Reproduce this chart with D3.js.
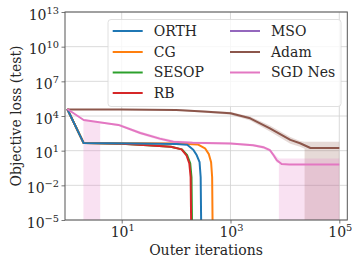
<!DOCTYPE html>
<html>
<head>
<meta charset="utf-8">
<script src="https://d3js.org/d3.v7.min.js"></script>
<style>
  body { margin: 0; background: #fff; }
  text { font-family: "DejaVu Serif", serif; fill: #262626; }
</style>
</head>
<body>
<svg id="chart" width="359" height="266"></svg>
<script>
// ---- data ----
const methods = ["ORTH", "CG", "SESOP", "RB", "MSO", "Adam", "SGD Nes"];
const colors = ["#1f77b4", "#ff7f0e", "#2ca02c", "#d62728", "#9467bd", "#8c564b", "#e377c2"];

const orthIt   = [1, 2, 20, 100, 160, 207, 240, 270, 283, 290, 295];
const orthLoss = [4e4, 45, 42, 38, 32, 12, 4, 1, 0.05, 1e-6, 1e-9];

const cgIt   = [1, 2, 20, 100, 250, 340, 400, 440, 460, 470, 480];
const cgLoss = [4e4, 46, 44, 41, 35, 16, 5, 1, 0.05, 1e-6, 1e-9];

const sesopIt   = [1, 2, 10, 30, 80, 128, 160, 182, 192, 197, 200];
const sesopLoss = [4e4, 45, 40, 30, 22, 13, 4, 0.8, 0.05, 1e-6, 1e-9];

const rbIt   = [1, 2, 10, 30, 80, 126, 155, 175, 185, 190, 195];
const rbLoss = [4e4, 45, 40, 30, 22, 13, 4, 0.8, 0.05, 1e-6, 1e-9];

const msoIt   = [];
const msoLoss = [];

const adamIt   = [1, 10, 100, 316, 1000, 2300, 5300, 12600, 19000, 29500, 1e5];
const adamLoss = [3.7e4, 3.6e4, 3.3e4, 2.5e4, 1.7e4, 6300, 850, 85, 44, 17, 17];

const sgdIt   = [1, 2, 8.7, 22, 50, 89, 200, 1000, 2600, 4000, 5300, 6200, 7100, 8700, 12000, 1e5];
const sgdLoss = [4e4, 4500, 1700, 340, 110, 60, 48, 42, 30, 20, 11, 4, 1.5, 0.7, 0.65, 0.65];

// spread bands (lower values at or below zero drawn as 1e-200)
const sgdBandIt = [1, 1.98, 2, 3, 4, 4.03, 5, 9, 22, 50, 89, 200, 1000, 2600, 4000, 5300, 7100, 7750, 7800, 12000, 1e5];
const sgdLo = [4e4, 3800, 1e-200, 1e-200, 1e-200, 2200, 2000, 1300, 250, 80, 45, 38, 34, 24, 15, 8, 0.9, 0.8, 1e-200, 1e-200, 1e-200];
const sgdHi = [4e4, 5500, 5500, 3500, 2700, 2700, 2400, 2100, 450, 150, 80, 62, 52, 38, 27, 15, 3, 2.1, 2.1, 2.1, 2.1];

const adamBandIt = [1, 100, 1000, 2300, 5300, 12600, 19000, 23000, 23300, 1e5];
const adamLo = [3.7e4, 3e4, 1.3e4, 4000, 450, 40, 22, 15, 1e-200, 1e-200];
const adamHi = [3.7e4, 4e4, 2.2e4, 9000, 1500, 150, 70, 60, 60, 60];

const xTickExps = [1, 3, 5];
const yTickExps = [-5, -2, 1, 4, 7, 10, 13];

// ---- layout ----
const svg = d3.select("#chart");
const L = 65, R = 347.3, T = 12, B = 220;

const x = d3.scaleLog().domain([Math.pow(10, -0.042), Math.pow(10, 5.147)]).range([L, R]);
const y = d3.scaleLog().domain([1e-5, 1e13]).range([B, T]);

svg.append("defs").append("clipPath").attr("id", "plotclip")
  .append("rect").attr("x", L).attr("y", T).attr("width", R - L).attr("height", B - T);

// grid
const grid = svg.append("g");
grid.selectAll(".gx").data(xTickExps).enter().append("line")
  .attr("x1", d => x(Math.pow(10, d))).attr("x2", d => x(Math.pow(10, d)))
  .attr("y1", T).attr("y2", B)
  .style("stroke", "#d0d0d0").style("stroke-width", 0.8);
grid.selectAll(".gy").data(yTickExps).enter().append("line")
  .attr("y1", d => y(Math.pow(10, d))).attr("y2", d => y(Math.pow(10, d)))
  .attr("x1", L).attr("x2", R)
  .style("stroke", "#d0d0d0").style("stroke-width", 0.8);

const plot = svg.append("g").attr("clip-path", "url(#plotclip)");

// bands
const area = d3.area()
  .x(d => x(d[0]))
  .y0(d => y(d[1]))
  .y1(d => y(d[2]));

const bands = [
  { color: colors[5], pts: adamBandIt.map((v, i) => [v, adamLo[i], adamHi[i]]) },
  { color: colors[6], pts: sgdBandIt.map((v, i) => [v, sgdLo[i], sgdHi[i]]) }
];
plot.selectAll(".band").data(bands).enter().append("path")
  .attr("d", d => area(d.pts))
  .style("fill", d => d.color)
  .style("fill-opacity", 0.22)
  .style("stroke", "none");

// lines (drawn in this order so ORTH sits on top of the early plateau)
const series = [
  { name: "SESOP", color: colors[2], it: sesopIt, loss: sesopLoss },
  { name: "RB", color: colors[3], it: rbIt, loss: rbLoss },
  { name: "CG", color: colors[1], it: cgIt, loss: cgLoss },
  { name: "ORTH", color: colors[0], it: orthIt, loss: orthLoss },
  { name: "MSO", color: colors[4], it: msoIt, loss: msoLoss },
  { name: "Adam", color: colors[5], it: adamIt, loss: adamLoss },
  { name: "SGD Nes", color: colors[6], it: sgdIt, loss: sgdLoss }
];
const line = d3.line().x(d => x(d[0])).y(d => y(d[1]));
plot.selectAll(".ln").data(series).enter().append("path")
  .attr("d", d => line(d.it.map((v, i) => [v, d.loss[i]])))
  .style("fill", "none")
  .style("stroke", d => d.color)
  .style("stroke-width", 2)
  .style("stroke-linejoin", "round");

// axes
const xAxis = d3.axisBottom(x).tickValues(xTickExps.map(e => Math.pow(10, e)))
  .tickFormat("").tickSize(3.5).tickSizeOuter(0);
const yAxis = d3.axisLeft(y).tickValues(yTickExps.map(e => Math.pow(10, e)))
  .tickFormat("").tickSize(3.5).tickSizeOuter(0);
const gx = svg.append("g").attr("transform", `translate(0,${B})`).call(xAxis);
const gy = svg.append("g").attr("transform", `translate(${L},0)`).call(yAxis);
[gx, gy].forEach(g => {
  g.select(".domain").remove();
  g.selectAll(".tick line").style("stroke", "#555").style("stroke-width", 0.8);
});

// frame
svg.append("rect").attr("x", L).attr("y", T).attr("width", R - L).attr("height", B - T)
  .style("fill", "none").style("stroke", "#555").style("stroke-width", 1);

// tick labels with superscripts
function powLabel(g, exp) {
  g.append("tspan").text("10").style("font-size", "14px");
  g.append("tspan").text(exp < 0 ? "\u2212" + (-exp) : String(exp))
    .attr("dy", -6).style("font-size", "9.8px");
}
svg.selectAll(".xl").data(xTickExps).enter().append("text")
  .attr("x", d => x(Math.pow(10, d)) + 1)
  .attr("y", 236.5)
  .attr("text-anchor", "middle")
  .each(function (d) { powLabel(d3.select(this), d); });
svg.selectAll(".yl").data(yTickExps).enter().append("text")
  .attr("x", 59)
  .attr("y", d => y(Math.pow(10, d)) + 7.5)
  .attr("text-anchor", "end")
  .each(function (d) { powLabel(d3.select(this), d); });

// axis titles
svg.append("text").attr("x", 206).attr("y", 255)
  .attr("text-anchor", "middle").style("font-size", "14px").text("Outer iterations");
svg.append("text").attr("transform", `translate(21,${(T + B) / 2}) rotate(-90)`)
  .attr("text-anchor", "middle").style("font-size", "14px").text("Objective loss (test)");

// legend
const leg = svg.append("g");
leg.append("rect").attr("x", 108).attr("y", 19.5).attr("width", 233).attr("height", 87)
  .attr("rx", 3)
  .style("fill", "#fff").style("fill-opacity", 0.8)
  .style("stroke", "#d8d8d8").style("stroke-width", 0.8);
const legItems = methods.map((m, i) => ({
  name: m, color: colors[i],
  col: i < 4 ? 0 : 1, row: i < 4 ? i : i - 4
}));
const colX = [112.7, 230];
const rowY = [31, 52, 72.5, 93];
const li = leg.selectAll(".li").data(legItems).enter().append("g")
  .attr("transform", d => `translate(${colX[d.col]},${rowY[d.row]})`);
li.append("line").attr("x1", 0).attr("x2", 30)
  .style("stroke", d => d.color).style("stroke-width", 2);
li.append("text").attr("x", 41).attr("dy", "0.35em")
  .style("font-size", "14px").text(d => d.name);
</script>
</body>
</html>
